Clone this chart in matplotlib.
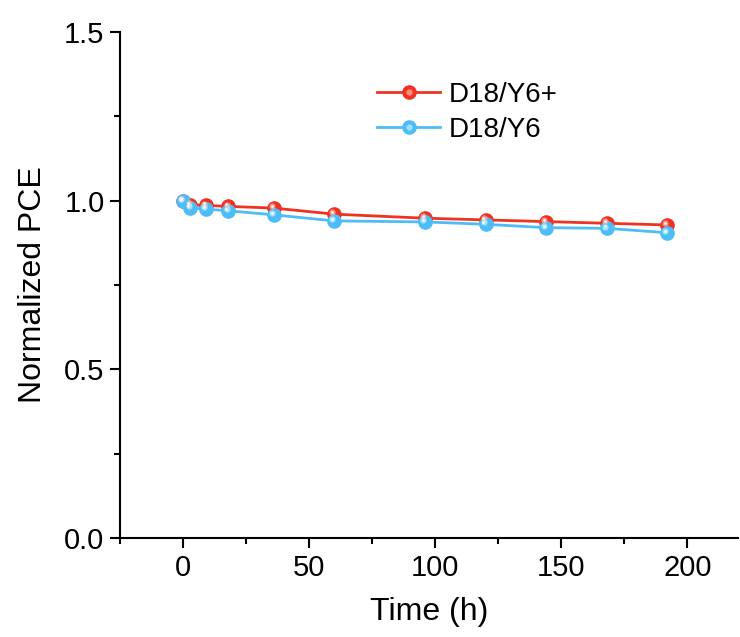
import numpy as np
import matplotlib
matplotlib.use('Agg')
import matplotlib.pyplot as plt
from matplotlib.transforms import offset_copy
from matplotlib.ticker import MultipleLocator

plt.rcParams['font.family'] = ['Liberation Sans', 'DejaVu Sans']

time_h = [0, 3, 9, 18, 36, 60, 96, 120, 144, 168, 192]
pce_plus = [1.0, 0.988, 0.986, 0.983, 0.978, 0.960, 0.948, 0.943, 0.938, 0.933, 0.928]
pce_y6 = [1.0, 0.979, 0.975, 0.970, 0.958, 0.940, 0.937, 0.930, 0.920, 0.918, 0.905]

red = '#ee3322'
blue = '#4dbdf8'
red_hi = '#fbb3a8'
blue_hi = '#c9efff'

fig = plt.figure(figsize=(7.4, 6.37), dpi=100)
ax = fig.add_axes([0.162, 0.155, 0.835, 0.795])

handles = []
for y, c, hi in [(pce_plus, red, red_hi), (pce_y6, blue, blue_hi)]:
    ln, = ax.plot(time_h, y, '-o', color=c, lw=2.0, ms=9.5, mec=c, mfc=c, zorder=3)
    tr = offset_copy(ax.transData, fig=fig, x=-1.3, y=1.3, units='points')
    ax.plot(time_h, y, 'o', color=hi, ms=4.5, mec='none', alpha=0.7, transform=tr, zorder=4)
    tr2 = offset_copy(ax.transData, fig=fig, x=-1.5, y=1.5, units='points')
    ax.plot(time_h, y, 'o', color='white', ms=2.0, mec='none', alpha=0.9, transform=tr2, zorder=5)
    hl, = ax.plot([], [], 'o', color=hi, ms=4.5, mec='none', alpha=0.7)
    handles.append((ln, hl))

ax.legend(handles, ['D18/Y6+', 'D18/Y6'], loc='upper left', bbox_to_anchor=(0.375, 0.95),
          frameon=False, fontsize=20, handlelength=2.3, handletextpad=0.3, labelspacing=0.3)

ax.set_xlim(-25, 220)
ax.set_ylim(0, 1.5)
ax.xaxis.set_major_locator(MultipleLocator(50))
ax.xaxis.set_minor_locator(MultipleLocator(25))
ax.yaxis.set_major_locator(MultipleLocator(0.5))
ax.yaxis.set_minor_locator(MultipleLocator(0.25))
ax.yaxis.set_major_formatter(plt.FormatStrFormatter('%.1f'))

ax.spines['top'].set_visible(False)
ax.spines['right'].set_visible(False)
for s in ['left', 'bottom']:
    ax.spines[s].set_linewidth(1.5)
ax.tick_params(which='major', direction='out', length=7, width=1.5, labelsize=21, pad=4)
ax.tick_params(which='minor', direction='out', length=4, width=1.5)

ax.set_xlabel('Time (h)', fontsize=23, labelpad=11)
ax.set_ylabel('Normalized PCE', fontsize=23, labelpad=12)

fig.savefig('out.png', dpi=100)
